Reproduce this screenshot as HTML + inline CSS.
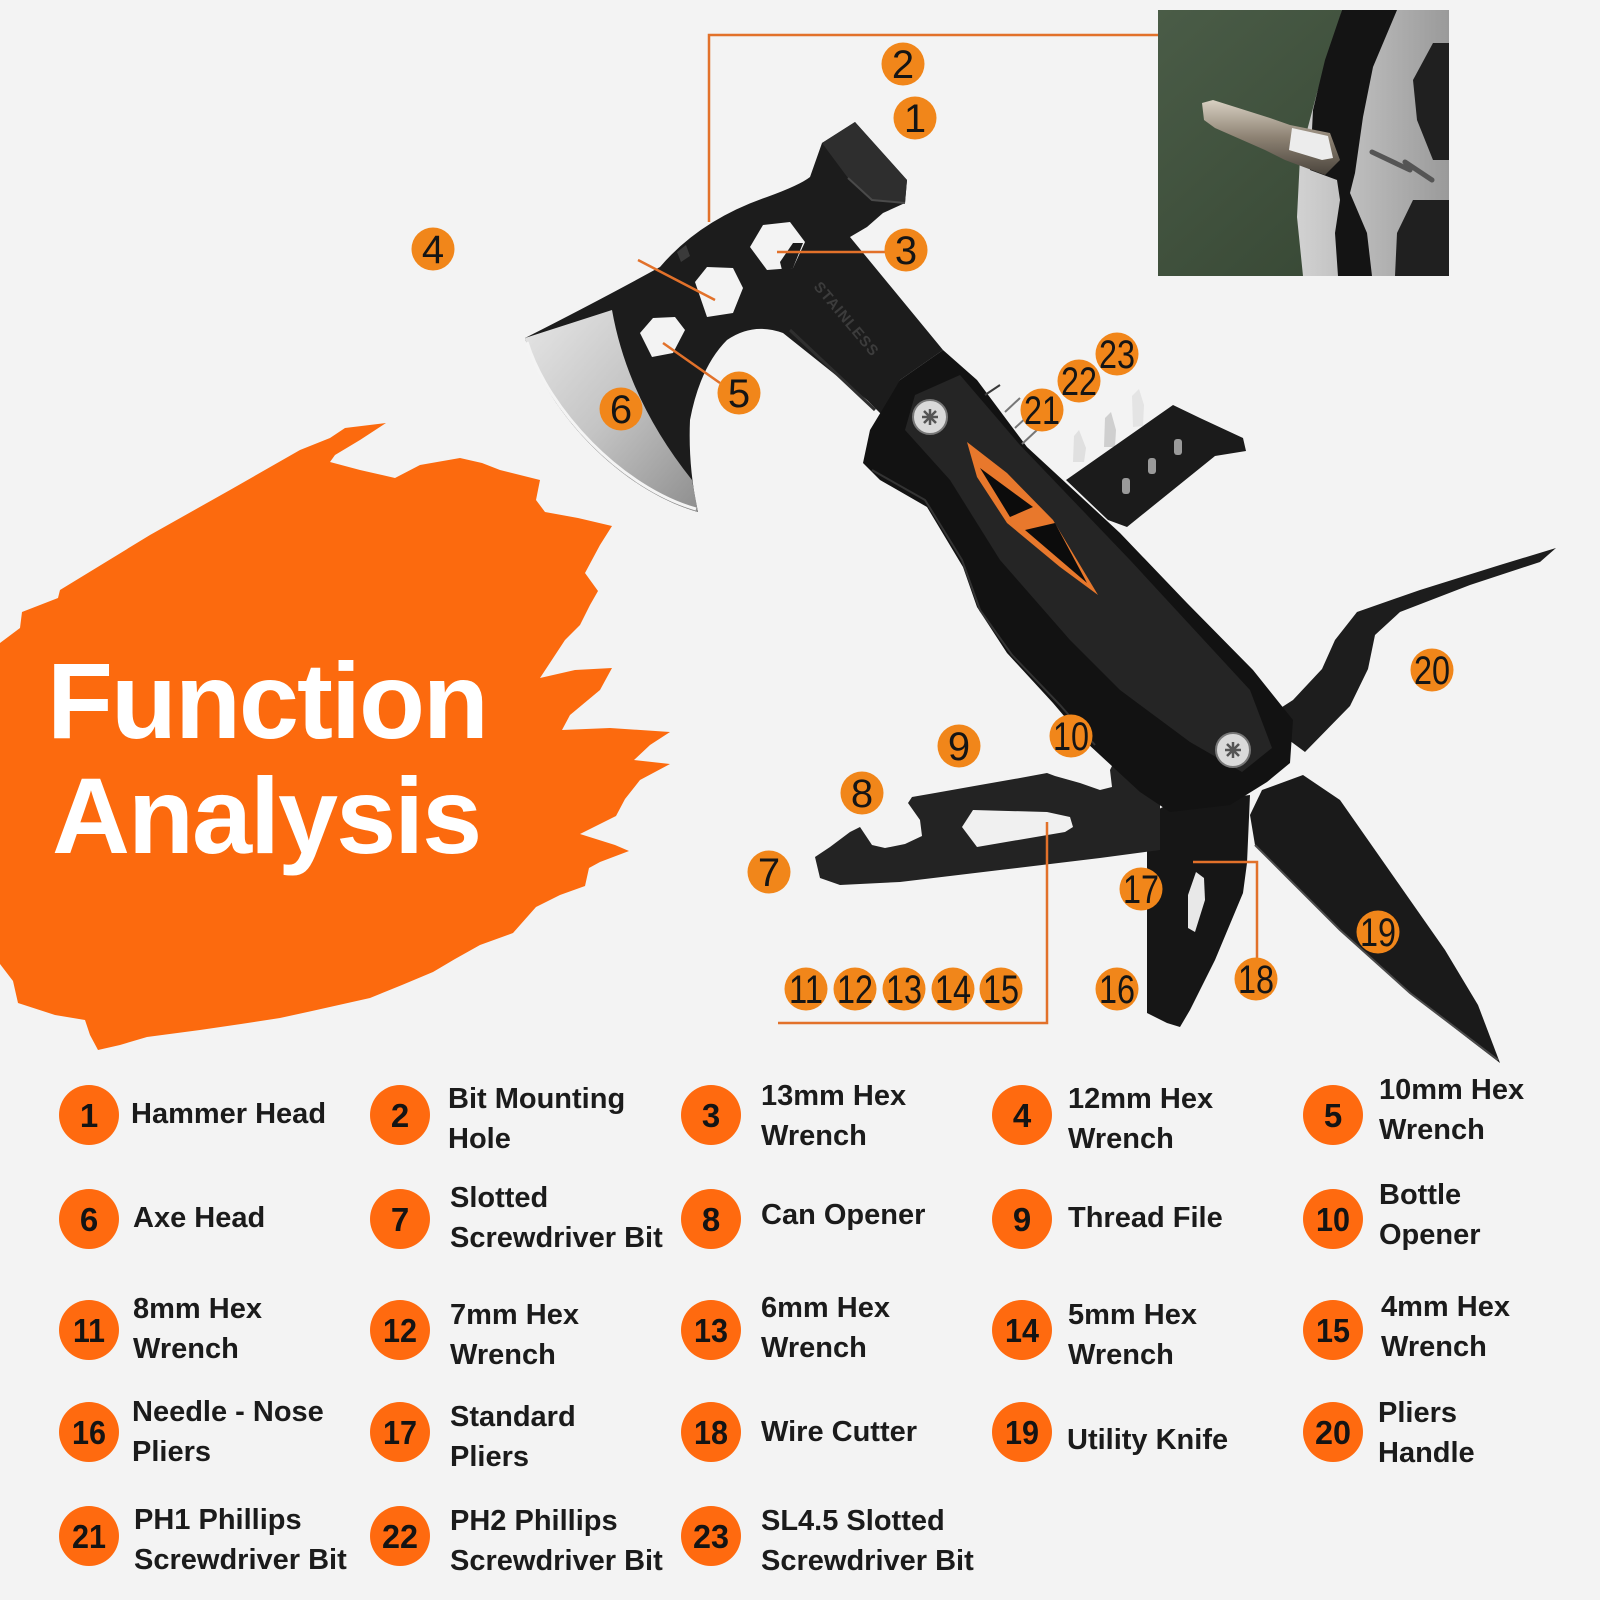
<!DOCTYPE html>
<html><head><meta charset="utf-8"><style>
html,body{margin:0;padding:0;background:#f3f3f3;}
svg{display:block;}
.lg{font-family:"Liberation Sans",Arial,sans-serif;font-weight:bold;font-size:29px;fill:#1b1b1b;}
.ln{font-family:"Liberation Sans",Arial,sans-serif;font-weight:bold;font-size:33px;fill:#141414;text-anchor:middle;}
.mk{font-family:"Liberation Sans",Arial,sans-serif;font-size:40px;fill:#151515;text-anchor:middle;}
</style></head><body>
<svg width="1600" height="1600" viewBox="0 0 1600 1600" xmlns="http://www.w3.org/2000/svg">
<defs>
<linearGradient id="blade" x1="0" y1="0" x2="1" y2="1">
<stop offset="0" stop-color="#e6e6e6"/><stop offset="0.5" stop-color="#c4c4c4"/><stop offset="1" stop-color="#8e8e8e"/>
</linearGradient>
<linearGradient id="green" x1="0" y1="0" x2="1" y2="1">
<stop offset="0" stop-color="#4a5c47"/><stop offset="1" stop-color="#344431"/>
</linearGradient>
<linearGradient id="bit" x1="0" y1="0" x2="0" y2="1">
<stop offset="0" stop-color="#d8d0c2"/><stop offset="0.5" stop-color="#8d8273"/><stop offset="1" stop-color="#4a443c"/>
</linearGradient>
<linearGradient id="silv" x1="0" y1="0" x2="1" y2="0">
<stop offset="0" stop-color="#d2d2d2"/><stop offset="1" stop-color="#9a9a9a"/>
</linearGradient>
</defs>
<rect width="1600" height="1600" fill="#f3f3f3"/>

<!-- orange splash -->
<polygon fill="#fc6a0e" points="0,643 20,628 22,612 58,598 60,590 150,535 230,490 300,450 330,438 345,428 386,423 360,440 335,455 330,462 360,470 395,478 420,465 460,458 482,463 500,470 540,480 536,500 545,512 578,518 612,526 600,545 585,573 598,591 590,605 580,625 565,640 540,678 575,670 612,668 600,690 570,715 562,730 610,728 670,732 650,745 634,760 670,764 640,780 625,799 616,816 580,834 615,845 629,851 600,862 589,868 585,886 560,895 536,907 513,933 480,945 455,959 433,972 402,985 370,998 312,1011 280,1018 241,1024 200,1030 147,1037 120,1045 98,1050 90,1035 85,1020 55,1015 18,1003 13,981 0,964"/>
<text x="47" y="738" font-family="Liberation Sans, Arial, sans-serif" font-weight="bold" font-size="108" letter-spacing="-2" fill="#ffffff">Function</text>
<text x="52" y="853" font-family="Liberation Sans, Arial, sans-serif" font-weight="bold" font-size="108" letter-spacing="-2" fill="#ffffff">Analysis</text>

<!-- pliers arm (20) -->
<polygon fill="#1d1d1d" points="1262,720 1293,700 1322,669 1335,640 1357,612 1420,590 1500,565 1556,548 1540,562 1470,585 1400,612 1375,635 1368,669 1350,706 1305,752"/>
<!-- knife (19) -->
<polygon fill="#1a1a1a" points="1262,790 1303,775 1340,800 1375,850 1410,900 1445,950 1478,1005 1500,1063 1470,1040 1410,993 1340,930 1290,880 1255,845 1250,815"/>
<polyline fill="none" stroke="#4a4a4a" stroke-width="2" points="1255,845 1290,880 1340,930 1410,993 1498,1060"/>
<!-- pliers jaws -->
<polygon fill="#161616" points="1147,815 1167,805 1210,800 1250,795 1247,863 1243,893 1215,960 1190,1010 1180,1027 1167,1023 1147,1013 1147,887"/>
<polygon fill="#e8e8e8" points="1196,872 1204,878 1205,900 1195,932 1188,928 1188,895"/>
<!-- bar tool 7-10 -->
<polygon fill="#232323" points="815,857 830,847 850,832 860,827 866,836 872,845 885,848 905,844 922,836 920,820 908,803 912,797 935,793 980,785 1020,778 1047,773 1055,776 1080,783 1100,790 1112,787 1110,770 1115,760 1125,757 1140,755 1160,760 1160,850 1100,858 1000,870 900,882 840,885 820,878"/>
<polygon fill="#f0f0f0" points="962,827 973,810 1047,812 1070,817 1073,827 1065,832 977,847"/>
<!-- bit holder -->
<polygon fill="#e0e0e0" points="1073,462 1074,436 1079,430 1086,448 1084,462"/>
<polygon fill="#cfcfcf" points="1104,447 1105,418 1111,412 1116,430 1115,447"/>
<polygon fill="#e4e4e4" points="1133,427 1132,396 1139,389 1144,405 1143,426"/>
<polygon fill="#1b1b1b" points="1066,480 1173,405 1200,418 1243,438 1246,451 1215,456 1127,527 1108,520"/>
<rect x="1122" y="478" width="8" height="16" rx="3" fill="#9a9a9a"/>
<rect x="1148" y="458" width="8" height="16" rx="3" fill="#9a9a9a"/>
<rect x="1174" y="439" width="8" height="16" rx="3" fill="#9a9a9a"/>

<!-- axe head -->
<path fill="#1c1c1c" d="M855,122 L907,180 L905,203 L883,213 L867,227 L850,237 L943,350 L900,380 L887,420 L867,400 L783,333 Q753,322 727,340 Q700,367 690,420 Q688,467 698,512 C620,490 545,410 525,338 Q600,300 660,267 Q700,220 767,197 Q800,185 810,177 L822,143 Z"/>
<path fill="url(#blade)" d="M525,338 L612,310 Q628,400 692,480 L698,512 C620,490 545,410 525,338 Z"/>
<path fill="none" stroke="#f4f4f4" stroke-width="3" d="M527,342 C548,410 622,488 696,509"/>
<polygon fill="#2e2e2e" points="822,143 855,122 907,180 905,203 872,200 848,178"/>
<polyline fill="none" stroke="#4a4a4a" stroke-width="2" points="848,178 872,200 905,203"/>
<polygon fill="#f3f3f3" points="750,247 763,225 790,222 805,242 793,268 767,270"/>
<polygon fill="#1c1c1c" points="780,262 793,243 803,243 793,268 782,270"/>
<polygon fill="#f3f3f3" points="695,282 707,267 733,268 743,288 733,313 707,317"/>
<polygon fill="#f3f3f3" points="640,333 653,318 675,317 685,330 673,353 652,357"/>
<polygon fill="#3a3a3a" points="677,252 686,245 690,256 681,262"/>
<path fill="none" stroke="#2f2f2f" stroke-width="3" d="M790,330 L875,410"/>
<text x="0" y="0" transform="translate(813,287) rotate(50)" font-family="Liberation Sans, Arial, sans-serif" font-weight="bold" font-size="15" fill="#3c3c3c" letter-spacing="1">STAINLESS</text>

<!-- handle -->
<polygon fill="#121212" points="943,350 977,380 1027,447 1120,533 1187,603 1253,670 1293,720 1290,763 1267,782 1230,805 1170,812 1140,792 1087,743 1053,703 1007,653 977,607 963,567 927,507 880,480 863,463 870,430 890,397 900,380"/>
<polygon fill="#252525" points="915,395 960,375 1020,445 1130,560 1250,690 1272,748 1242,772 1190,742 1120,690 1070,640 1000,560 950,480 905,430"/>
<polyline fill="none" stroke="#333" stroke-width="2" points="872,470 925,500 962,560 980,610 1012,655 1060,705 1095,745"/>
<polyline fill="none" stroke="#3a3a3a" stroke-width="2" points="985,395 1000,385"/>
<line x1="1005" y1="412" x2="1020" y2="398" stroke="#777" stroke-width="2"/>
<line x1="1015" y1="428" x2="1030" y2="414" stroke="#777" stroke-width="2"/>
<line x1="1022" y1="444" x2="1037" y2="430" stroke="#777" stroke-width="2"/>
<polygon fill="#e8782c" points="967,442 1007,473 1053,520 1098,595 1060,567 1007,523 977,477"/>
<polygon fill="#0c0c0c" points="980,468 1033,507 1010,517"/>
<polygon fill="#0c0c0c" points="1025,530 1055,523 1087,583"/>
<circle cx="930" cy="417" r="17" fill="#d9d9d9" stroke="#777" stroke-width="2"/>
<path d="M930,409 V425 M922,417 H938 M924,411 L936,423 M936,411 L924,423" stroke="#555" stroke-width="2.5"/>
<circle cx="1233" cy="750" r="17" fill="#d9d9d9" stroke="#777" stroke-width="2"/>
<path d="M1233,742 V758 M1225,750 H1241 M1227,744 L1239,756 M1239,744 L1227,756" stroke="#555" stroke-width="2.5"/>

<!-- connector lines -->
<g stroke="#e2712a" stroke-width="2.5" fill="none">
<polyline points="709,222 709,35 1158,35"/>
<line x1="777" y1="252" x2="887" y2="252"/>
<line x1="638" y1="260" x2="715" y2="300"/>
<line x1="663" y1="343" x2="720" y2="383"/>
<polyline points="778,1023 1047,1023 1047,822"/>
<polyline points="1193,862 1257,862 1257,958"/>
</g>

<!-- markers -->
<g fill="#f1861a">
<circle cx="903" cy="64" r="21.5"/><circle cx="915" cy="118" r="21.5"/><circle cx="433" cy="249" r="21.5"/>
<circle cx="906" cy="250" r="21.5"/><circle cx="739" cy="393" r="21.5"/><circle cx="621" cy="409" r="21.5"/>
<circle cx="1042" cy="410" r="21.5"/><circle cx="1079" cy="381" r="21.5"/><circle cx="1117" cy="354" r="21.5"/>
<circle cx="1432" cy="670" r="21.5"/><circle cx="959" cy="746" r="21.5"/><circle cx="1071" cy="736" r="21.5"/>
<circle cx="862" cy="793" r="21.5"/><circle cx="769" cy="872" r="21.5"/><circle cx="1141" cy="889" r="21.5"/>
<circle cx="1378" cy="932" r="21.5"/><circle cx="1256" cy="979" r="21.5"/><circle cx="1117" cy="989" r="21.5"/>
<circle cx="806" cy="989" r="21.5"/><circle cx="855" cy="989" r="21.5"/><circle cx="904" cy="989" r="21.5"/>
<circle cx="953" cy="989" r="21.5"/><circle cx="1001" cy="989" r="21.5"/>
</g>
<g class="mk">
<text class="mk" x="903" y="78">2</text>
<text class="mk" x="915" y="132">1</text>
<text class="mk" x="433" y="263">4</text>
<text class="mk" x="906" y="264">3</text>
<text class="mk" x="739" y="407">5</text>
<text class="mk" x="621" y="423">6</text>
<text class="mk" x="1042" y="424" textLength="36" lengthAdjust="spacingAndGlyphs">21</text>
<text class="mk" x="1079" y="395" textLength="36" lengthAdjust="spacingAndGlyphs">22</text>
<text class="mk" x="1117" y="368" textLength="36" lengthAdjust="spacingAndGlyphs">23</text>
<text class="mk" x="1432" y="684" textLength="36" lengthAdjust="spacingAndGlyphs">20</text>
<text class="mk" x="959" y="760">9</text>
<text class="mk" x="1071" y="750" textLength="36" lengthAdjust="spacingAndGlyphs">10</text>
<text class="mk" x="862" y="807">8</text>
<text class="mk" x="769" y="886">7</text>
<text class="mk" x="1141" y="903" textLength="36" lengthAdjust="spacingAndGlyphs">17</text>
<text class="mk" x="1378" y="946" textLength="36" lengthAdjust="spacingAndGlyphs">19</text>
<text class="mk" x="1256" y="993" textLength="36" lengthAdjust="spacingAndGlyphs">18</text>
<text class="mk" x="1117" y="1003" textLength="36" lengthAdjust="spacingAndGlyphs">16</text>
<text class="mk" x="806" y="1003" textLength="34" lengthAdjust="spacingAndGlyphs">11</text>
<text class="mk" x="855" y="1003" textLength="36" lengthAdjust="spacingAndGlyphs">12</text>
<text class="mk" x="904" y="1003" textLength="36" lengthAdjust="spacingAndGlyphs">13</text>
<text class="mk" x="953" y="1003" textLength="36" lengthAdjust="spacingAndGlyphs">14</text>
<text class="mk" x="1001" y="1003" textLength="36" lengthAdjust="spacingAndGlyphs">15</text>
</g>

<!-- inset photo -->
<rect x="1158" y="10" width="291" height="266" fill="url(#green)"/>
<polygon fill="url(#silv)" points="1342,10 1449,10 1449,276 1303,276 1297,217 1300,157 1317,93 1337,27"/>
<polygon fill="#141414" points="1342,10 1397,10 1373,67 1363,117 1355,173 1350,193 1367,233 1372,276 1338,276 1335,233 1340,200 1337,180 1310,170 1313,110 1325,60"/>
<polygon fill="#202020" points="1413,80 1433,43 1449,43 1449,160 1433,160 1417,120"/>
<polygon fill="#202020" points="1397,233 1413,200 1449,200 1449,276 1395,276"/>
<path d="M1372,152 L1410,170 M1405,162 L1432,180" stroke="#555" stroke-width="5" fill="none" stroke-linecap="round"/>
<polygon fill="url(#bit)" points="1202,103 1213,100 1270,118 1290,125 1330,133 1340,160 1325,175 1285,160 1265,150 1215,128 1204,120"/>
<polygon fill="#ececec" points="1292,128 1328,136 1333,158 1322,160 1289,150"/>

<!-- legend -->
<g fill="#ff6a0f">
<circle cx="89" cy="1115" r="30"/><circle cx="400" cy="1115" r="30"/><circle cx="711" cy="1115" r="30"/><circle cx="1022" cy="1115" r="30"/><circle cx="1333" cy="1115" r="30"/>
<circle cx="89" cy="1219" r="30"/><circle cx="400" cy="1219" r="30"/><circle cx="711" cy="1219" r="30"/><circle cx="1022" cy="1219" r="30"/><circle cx="1333" cy="1219" r="30"/>
<circle cx="89" cy="1330" r="30"/><circle cx="400" cy="1330" r="30"/><circle cx="711" cy="1330" r="30"/><circle cx="1022" cy="1330" r="30"/><circle cx="1333" cy="1330" r="30"/>
<circle cx="89" cy="1432" r="30"/><circle cx="400" cy="1432" r="30"/><circle cx="711" cy="1432" r="30"/><circle cx="1022" cy="1432" r="30"/><circle cx="1333" cy="1432" r="30"/>
<circle cx="89" cy="1536" r="30"/><circle cx="400" cy="1536" r="30"/><circle cx="711" cy="1536" r="30"/>
</g>
<g>
<text class="ln" x="89" y="1127">1</text><text class="ln" x="400" y="1127">2</text><text class="ln" x="711" y="1127">3</text><text class="ln" x="1022" y="1127">4</text><text class="ln" x="1333" y="1127">5</text>
<text class="ln" x="89" y="1231">6</text><text class="ln" x="400" y="1231">7</text><text class="ln" x="711" y="1231">8</text><text class="ln" x="1022" y="1231">9</text><text class="ln" x="1333" y="1231" textLength="34" lengthAdjust="spacingAndGlyphs">10</text>
<text class="ln" x="89" y="1342" textLength="32" lengthAdjust="spacingAndGlyphs">11</text><text class="ln" x="400" y="1342" textLength="34" lengthAdjust="spacingAndGlyphs">12</text><text class="ln" x="711" y="1342" textLength="34" lengthAdjust="spacingAndGlyphs">13</text><text class="ln" x="1022" y="1342" textLength="34" lengthAdjust="spacingAndGlyphs">14</text><text class="ln" x="1333" y="1342" textLength="34" lengthAdjust="spacingAndGlyphs">15</text>
<text class="ln" x="89" y="1444" textLength="34" lengthAdjust="spacingAndGlyphs">16</text><text class="ln" x="400" y="1444" textLength="34" lengthAdjust="spacingAndGlyphs">17</text><text class="ln" x="711" y="1444" textLength="34" lengthAdjust="spacingAndGlyphs">18</text><text class="ln" x="1022" y="1444" textLength="34" lengthAdjust="spacingAndGlyphs">19</text><text class="ln" x="1333" y="1444" textLength="36" lengthAdjust="spacingAndGlyphs">20</text>
<text class="ln" x="89" y="1548" textLength="34" lengthAdjust="spacingAndGlyphs">21</text><text class="ln" x="400" y="1548" textLength="36" lengthAdjust="spacingAndGlyphs">22</text><text class="ln" x="711" y="1548" textLength="36" lengthAdjust="spacingAndGlyphs">23</text>
</g>
<g class="lg">
<text class="lg" x="131" y="1123">Hammer Head</text>
<text class="lg" x="448" y="1108">Bit Mounting</text><text class="lg" x="448" y="1148">Hole</text>
<text class="lg" x="761" y="1105">13mm Hex</text><text class="lg" x="761" y="1145">Wrench</text>
<text class="lg" x="1068" y="1108">12mm Hex</text><text class="lg" x="1068" y="1148">Wrench</text>
<text class="lg" x="1379" y="1099">10mm Hex</text><text class="lg" x="1379" y="1139">Wrench</text>

<text class="lg" x="133" y="1227">Axe Head</text>
<text class="lg" x="450" y="1207">Slotted</text><text class="lg" x="450" y="1247">Screwdriver Bit</text>
<text class="lg" x="761" y="1224">Can Opener</text>
<text class="lg" x="1068" y="1227">Thread File</text>
<text class="lg" x="1379" y="1204">Bottle</text><text class="lg" x="1379" y="1244">Opener</text>

<text class="lg" x="133" y="1318">8mm Hex</text><text class="lg" x="133" y="1358">Wrench</text>
<text class="lg" x="450" y="1324">7mm Hex</text><text class="lg" x="450" y="1364">Wrench</text>
<text class="lg" x="761" y="1317">6mm Hex</text><text class="lg" x="761" y="1357">Wrench</text>
<text class="lg" x="1068" y="1324">5mm Hex</text><text class="lg" x="1068" y="1364">Wrench</text>
<text class="lg" x="1381" y="1316">4mm Hex</text><text class="lg" x="1381" y="1356">Wrench</text>

<text class="lg" x="132" y="1421">Needle - Nose</text><text class="lg" x="132" y="1461">Pliers</text>
<text class="lg" x="450" y="1426">Standard</text><text class="lg" x="450" y="1466">Pliers</text>
<text class="lg" x="761" y="1441">Wire Cutter</text>
<text class="lg" x="1067" y="1449">Utility Knife</text>
<text class="lg" x="1378" y="1422">Pliers</text><text class="lg" x="1378" y="1462">Handle</text>

<text class="lg" x="134" y="1529">PH1 Phillips</text><text class="lg" x="134" y="1569">Screwdriver Bit</text>
<text class="lg" x="450" y="1530">PH2 Phillips</text><text class="lg" x="450" y="1570">Screwdriver Bit</text>
<text class="lg" x="761" y="1530">SL4.5 Slotted</text><text class="lg" x="761" y="1570">Screwdriver Bit</text>
</g>
</svg>
</body></html>
